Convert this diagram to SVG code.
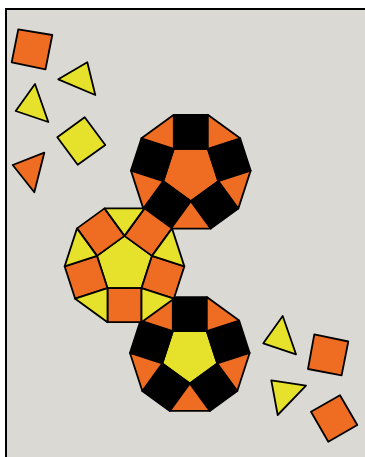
<svg xmlns="http://www.w3.org/2000/svg" width="365" height="457" viewBox="0 0 365 457">
<style>
polygon{stroke:#000;stroke-width:1.8;stroke-linejoin:round}
.o{fill:#ee6d22}
.y{fill:#e6e22b}
.k{fill:#000}
</style>
<rect x="0" y="0" width="365" height="457" fill="#fff"/>
<rect id="board" x="6" y="9" width="370" height="460" fill="#dad9d4" stroke="#000" stroke-width="2"/>
<g id="deca-top" transform="translate(190.8,172.2)">
<polygon class="o" points="0,28.922 27.506,8.937 17,-23.399 -17,-23.399 -27.506,8.937"/>
<polygon class="k" points="0,28.922 27.506,8.937 47.491,36.444 19.985,56.429"/>
<polygon class="k" points="27.506,8.937 17,-23.399 49.336,-33.906 59.842,-1.570"/>
<polygon class="k" points="17,-23.399 -17,-23.399 -17,-57.399 17,-57.399"/>
<polygon class="k" points="-17,-23.399 -27.506,8.937 -59.842,-1.570 -49.336,-33.906"/>
<polygon class="k" points="-27.506,8.937 0,28.922 -19.985,56.429 -47.491,36.444"/>
<polygon class="o" points="0,28.922 19.985,56.429 -19.985,56.429"/>
<polygon class="o" points="27.506,8.937 47.491,36.444 59.842,-1.570"/>
<polygon class="o" points="17,-23.399 49.336,-33.906 17,-57.399"/>
<polygon class="o" points="-17,-23.399 -17,-57.399 -49.336,-33.906"/>
<polygon class="o" points="-27.506,8.937 -59.842,-1.570 -47.491,36.444"/>
</g>
<g id="deca-bottom" transform="translate(189.8,354.5)">
<polygon class="y" points="0,28.922 27.506,8.937 17,-23.399 -17,-23.399 -27.506,8.937"/>
<polygon class="k" points="0,28.922 27.506,8.937 47.491,36.444 19.985,56.429"/>
<polygon class="k" points="27.506,8.937 17,-23.399 49.336,-33.906 59.842,-1.570"/>
<polygon class="k" points="17,-23.399 -17,-23.399 -17,-57.399 17,-57.399"/>
<polygon class="k" points="-17,-23.399 -27.506,8.937 -59.842,-1.570 -49.336,-33.906"/>
<polygon class="k" points="-27.506,8.937 0,28.922 -19.985,56.429 -47.491,36.444"/>
<polygon class="o" points="0,28.922 19.985,56.429 -19.985,56.429"/>
<polygon class="o" points="27.506,8.937 47.491,36.444 59.842,-1.570"/>
<polygon class="o" points="17,-23.399 49.336,-33.906 17,-57.399"/>
<polygon class="o" points="-17,-23.399 -17,-57.399 -49.336,-33.906"/>
<polygon class="o" points="-27.506,8.937 -59.842,-1.570 -47.491,36.444"/>
</g>
<g id="deca-middle" transform="translate(124.5,264.8) rotate(180)">
<polygon class="y" points="0,28.922 27.506,8.937 17,-23.399 -17,-23.399 -27.506,8.937"/>
<polygon class="o" points="0,28.922 27.506,8.937 47.491,36.444 19.985,56.429"/>
<polygon class="o" points="27.506,8.937 17,-23.399 49.336,-33.906 59.842,-1.570"/>
<polygon class="o" points="17,-23.399 -17,-23.399 -17,-57.399 17,-57.399"/>
<polygon class="o" points="-17,-23.399 -27.506,8.937 -59.842,-1.570 -49.336,-33.906"/>
<polygon class="o" points="-27.506,8.937 0,28.922 -19.985,56.429 -47.491,36.444"/>
<polygon class="y" points="0,28.922 19.985,56.429 -19.985,56.429"/>
<polygon class="y" points="27.506,8.937 47.491,36.444 59.842,-1.570"/>
<polygon class="y" points="17,-23.399 49.336,-33.906 17,-57.399"/>
<polygon class="y" points="-17,-23.399 -17,-57.399 -49.336,-33.906"/>
<polygon class="y" points="-27.506,8.937 -59.842,-1.570 -47.491,36.444"/>
</g>
<g id="loose">
<polygon id="sq1" class="o" points="18.3,29.3 52.3,35 45.5,69.3 11.7,62.3"/>
<polygon id="tri1" class="y" points="58.3,79.3 87.3,62.3 95.3,95"/>
<polygon id="tri2" class="y" points="35,84 15.7,111 48.3,122"/>
<polygon id="sq2" class="y" points="57.3,137.3 84.7,117.3 105.3,145 77.7,164.7"/>
<polygon id="tri3" class="o" points="12.7,165 44.3,152.7 34.3,192.3"/>
<polygon id="tri4" class="y" points="263.3,343.3 282.7,316 296,354.3"/>
<polygon id="sq3" class="o" points="314.3,334.3 348.3,341.5 341.6,375.3 308,369"/>
<polygon id="tri5" class="y" points="271.3,380.3 306,385.7 277.7,415"/>
<polygon id="sq4" class="o" points="311,411.7 340,395.2 357.3,425 328.3,441.7"/>
</g>
</svg>
